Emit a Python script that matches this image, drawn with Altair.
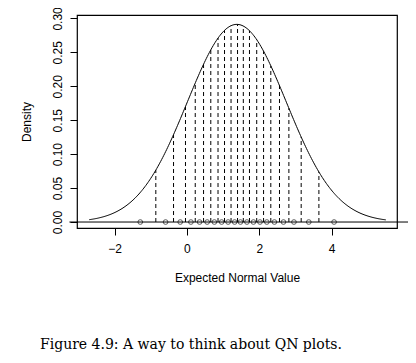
import altair as alt
import numpy as np
import pandas as pd

# values
mu = 1.38
sd = 1.37
points_x = [-1.29, -0.59, -0.185, 0.11, 0.35, 0.56, 0.76, 0.96, 1.14, 1.32,
            1.48, 1.66, 1.84, 2.02, 2.21, 2.42, 2.67, 2.96, 3.37, 4.07]
quantile_x = [-0.86, -0.37, -0.04, 0.23, 0.46, 0.66, 0.86, 1.04, 1.22, 1.40,
              1.56, 1.73, 1.93, 2.12, 2.32, 2.56, 2.82, 3.16, 3.65]
curve_range = [-2.7, 5.5]
baseline_x = [-3.25, 6.25]
x_ticks = [-2, 0, 2, 4]
y_ticks = [0.0, 0.05, 0.10, 0.15, 0.20, 0.25, 0.30]


def dens(x):
    x = np.asarray(x, dtype=float)
    return np.exp(-0.5 * ((x - mu) / sd) ** 2) / (sd * np.sqrt(2 * np.pi))


grid = np.linspace(curve_range[0], curve_range[1], 300)
curve_df = pd.DataFrame({"x": grid, "y": dens(grid)})
q_df = pd.DataFrame({"x": quantile_x, "y0": 0.0, "y": dens(quantile_x)})
pts_df = pd.DataFrame({"x": points_x, "y": 0.0})
base_df = pd.DataFrame({"x": [baseline_x[0]], "x2": [baseline_x[1]], "y": [0.0]})

xscale = alt.Scale(domain=[-3.04, 5.81], nice=False, zero=False)
yscale = alt.Scale(domain=[-0.0088, 0.305], nice=False, zero=False)

xaxis = alt.Axis(values=x_ticks, title="Expected Normal Value", grid=False, domain=False,
                 tickColor="black", tickSize=7, labelColor="black", labelFontSize=12,
                 labelFont="Liberation Sans", labelPadding=8, labelFlush=False,
                 labelOverlap=False, titleFont="Liberation Sans",
                 titleFontSize=12, titleFontWeight="normal", titleColor="black", titlePadding=18)
yaxis = alt.Axis(values=y_ticks, tickCount=7, format=".2f", title="Density", grid=False,
                 domain=False, tickColor="black", tickSize=7, labelColor="black",
                 labelFontSize=12, labelFont="Liberation Sans", labelAngle=270,
                 labelAlign="center", labelBaseline="bottom", labelPadding=6,
                 labelFlush=False, labelOverlap=False, titleFont="Liberation Sans",
                 titleFontSize=12, titleFontWeight="normal", titleColor="black", titlePadding=18)

X = alt.X("x:Q", scale=xscale, axis=xaxis)

curve = alt.Chart(curve_df).mark_line(color="black", strokeWidth=1).encode(
    x=X, y=alt.Y("y:Q", scale=yscale, axis=yaxis),
)
rules = alt.Chart(q_df).mark_rule(color="black", strokeWidth=1, strokeDash=[4, 3]).encode(
    x=X, y=alt.Y("y0:Q", scale=yscale, axis=yaxis), y2="y:Q"
)
baseline = alt.Chart(base_df).mark_rule(color="black", strokeWidth=1, clip=False).encode(
    x=X, x2="x2:Q", y=alt.Y("y:Q", scale=yscale, axis=yaxis)
)
points = alt.Chart(pts_df).mark_point(shape="circle", filled=False, color="black",
                                      size=22, strokeWidth=0.9).encode(
    x=X, y=alt.Y("y:Q", scale=yscale, axis=yaxis)
)

chart = alt.layer(curve, rules, baseline, points).properties(
    width=320, height=213,
    autosize=alt.AutoSizeParams(type="none"),
    padding={"left": 69, "top": 7, "right": 11, "bottom": 140},
    title=alt.TitleParams(
        text="Figure 4.9: A way to think about QN plots.",
        orient="bottom", anchor="start", frame="group", dx=-37, offset=55,
        font="DejaVu Serif", fontSize=14, fontWeight="normal", color="black",
    ),
).configure_view(stroke="black", strokeWidth=1.2)

chart.save("out.html", embed_options={"renderer": "svg", "actions": False})
